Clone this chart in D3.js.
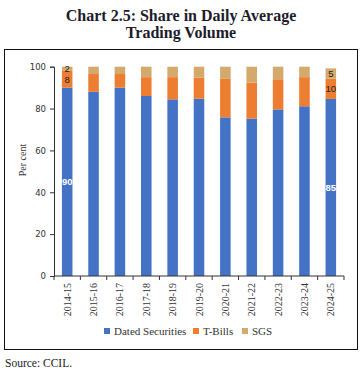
<!DOCTYPE html>
<html><head><meta charset="utf-8">
<script src="https://cdn.jsdelivr.net/npm/d3@7/dist/d3.min.js"></script>
<style>body{margin:0;background:#fff}svg{display:block}</style>
</head><body>
<script>
const categories = ["2014-15","2015-16","2016-17","2017-18","2018-19","2019-20","2020-21","2021-22","2022-23","2023-24","2024-25"];
const datedSecurities = [90, 88, 90, 86, 84.4, 84.7, 75.8, 75.2, 79.6, 81.1, 84.6];
const tBills = [8, 8.5, 6.5, 9, 10.6, 10, 18.4, 17.2, 14.4, 13.9, 9.7];
const sgs = [2, 3.5, 3.5, 5, 5, 5.3, 5.8, 7.6, 6, 5, 4.9];
const seriesNames = ["Dated Securities", "T-Bills", "SGS"];
const colors = ["#4472C4", "#ED7D31", "#D4AA6C"];
const yTicks = [0, 20, 40, 60, 80, 100];
const labelsShown = [
  {cat: 0, s: 0, text: "90"}, {cat: 0, s: 1, text: "8"}, {cat: 0, s: 2, text: "2"},
  {cat: 10, s: 0, text: "85"}, {cat: 10, s: 1, text: "10"}, {cat: 10, s: 2, text: "5"}
];

const W = 364, H = 374;
const svg = d3.select("body").append("svg").attr("width", W).attr("height", H);
const serif = "'Liberation Serif', serif";
const sans = "'DejaVu Sans', sans-serif";

svg.append("text").attr("x", 181).attr("y", 21).attr("text-anchor", "middle")
  .attr("font-family", serif).attr("font-weight", "bold").attr("font-size", 16)
  .attr("fill", "#1c1c2c").text("Chart 2.5: Share in Daily Average");
svg.append("text").attr("x", 181).attr("y", 38).attr("text-anchor", "middle")
  .attr("font-family", serif).attr("font-weight", "bold").attr("font-size", 16)
  .attr("fill", "#1c1c2c").text("Trading Volume");

svg.append("rect").attr("x", 4.5).attr("y", 49.5).attr("width", 353).attr("height", 300)
  .attr("fill", "none").attr("stroke", "#111").attr("stroke-width", 1);

const rows = categories.map((c, i) => ({cat: c, "Dated Securities": datedSecurities[i], "T-Bills": tBills[i], "SGS": sgs[i]}));
const stack = d3.stack().keys(seriesNames)(rows);

const x = d3.scaleBand().domain(categories).range([54, 344]).paddingInner(0.6).paddingOuter(0.3);
const y = d3.scaleLinear().domain([0, 100]).range([276, 66.7]);

const g = svg.append("g");
stack.forEach((layer, si) => {
  g.selectAll(null).data(layer).enter().append("rect")
    .attr("x", (d, i) => x(categories[i]))
    .attr("width", x.bandwidth())
    .attr("y", d => y(d[1]))
    .attr("height", d => y(d[0]) - y(d[1]))
    .attr("fill", colors[si]);
});

labelsShown.forEach(l => {
  const d = stack[l.s][l.cat];
  svg.append("text").attr("x", x(categories[l.cat]) + x.bandwidth() / 2)
    .attr("y", (y(d[0]) + y(d[1])) / 2 + 3.3)
    .attr("text-anchor", "middle").attr("font-family", "'Liberation Sans', sans-serif").attr("font-size", 9.5)
    .attr("font-weight", l.s === 0 ? "bold" : "normal")
    .attr("fill", l.s === 0 ? "#fff" : "#222").text(l.text);
});

const yAxis = svg.append("g").attr("transform", "translate(54,0)")
  .call(d3.axisLeft(y).tickValues(yTicks).tickSize(4).tickPadding(4));
yAxis.selectAll("text").attr("font-family", sans).attr("font-size", 8.5).attr("fill", "#333");
yAxis.selectAll("line,path").attr("stroke", "#333");

const xAxisG = svg.append("g").attr("transform", "translate(0,276)");
xAxisG.append("line").attr("x1", 54).attr("x2", 344).attr("stroke", "#333");
const bounds = d3.range(categories.length + 1).map(i => 54 + (290 / categories.length) * i);
xAxisG.selectAll(null).data(bounds).enter().append("line")
  .attr("x1", d => d).attr("x2", d => d).attr("y1", 0).attr("y2", 4).attr("stroke", "#333");
xAxisG.selectAll(null).data(categories).enter().append("text")
  .attr("transform", d => `translate(${x(d) + x.bandwidth() / 2 + 3.5},${7}) rotate(-90)`)
  .attr("text-anchor", "end").attr("font-family", serif).attr("font-size", 10)
  .attr("fill", "#333").text(d => d);

svg.append("text").attr("transform", "translate(26,160) rotate(-90)")
  .attr("text-anchor", "middle").attr("font-family", serif).attr("font-size", 10)
  .attr("fill", "#333").text("Per cent");

const legendX = [104, 193, 242];
seriesNames.forEach((n, i) => {
  svg.append("rect").attr("x", legendX[i]).attr("y", 328).attr("width", 6).attr("height", 6).attr("fill", colors[i]);
  svg.append("text").attr("x", legendX[i] + 10).attr("y", 334.5).attr("font-family", serif)
    .attr("font-size", 11).attr("fill", "#333").text(n);
});

svg.append("text").attr("x", 5).attr("y", 367).attr("font-family", serif).attr("font-size", 11.5)
  .attr("fill", "#222").text("Source: CCIL.");
</script>
</body></html>
